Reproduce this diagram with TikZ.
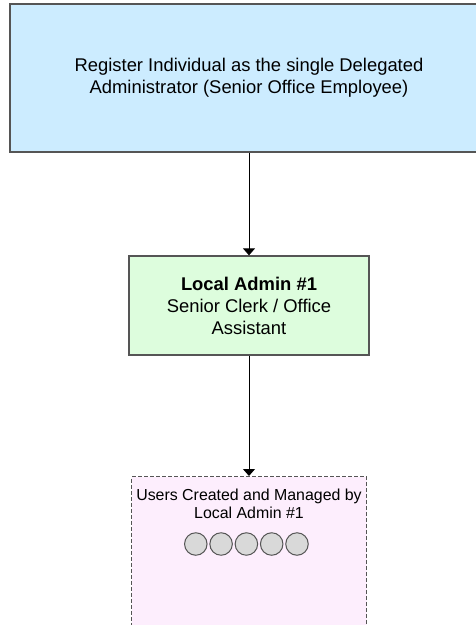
\documentclass[tikz,border=0pt]{standalone}
\usepackage{fontspec}
\setmainfont{Liberation Sans}
\usetikzlibrary{arrows.meta}
\definecolor{regblue}{HTML}{CCECFF}
\definecolor{admingreen}{HTML}{DDFDDD}
\definecolor{userpink}{HTML}{FDEEFD}
\definecolor{edgegray}{HTML}{555555}
\begin{document}
\begin{tikzpicture}[x=1pt,y=-1pt,
    box/.style={draw=edgegray, line width=1.3pt, align=center, inner sep=0pt, font=\fontsize{18.4}{22}\selectfont},
    link/.style={-{Triangle[width=12pt,length=7pt]}, line width=1pt},
    user/.style={circle, draw=edgegray, fill=black!15, line width=1pt, minimum size=22.5pt, inner sep=0pt}]

    \useasboundingbox (0,0) rectangle (475,625);
    \node[box, fill=regblue, minimum width=478pt, minimum height=148pt] (register) at (249,78) {Register Individual as the single Delegated\\Administrator (Senior Office Employee)};
    \node[box, fill=admingreen, minimum width=240pt, minimum height=99pt] (admin) at (249,305.5) {\textbf{Local Admin \#1}\\Senior Clerk / Office\\Assistant};
    \node[box, fill=userpink, line width=1pt, dash pattern=on 4pt off 2pt, minimum width=235pt, minimum height=200pt, anchor=north] (users) at (249,476) {};
    \node[align=center, inner sep=0pt, font=\fontsize{15.9}{18}\selectfont] (userslabel) at (249,504) {Users Created and Managed by\\Local Admin \#1};
    \foreach \i in {1,...,5}
        \node[user] (u\i) at ({170.5+25.3*\i},544) {};
    \draw[link] (register.south) -- (admin.north);
    \draw[link] (admin.south) -- (users.north);
\end{tikzpicture}
\end{document}
